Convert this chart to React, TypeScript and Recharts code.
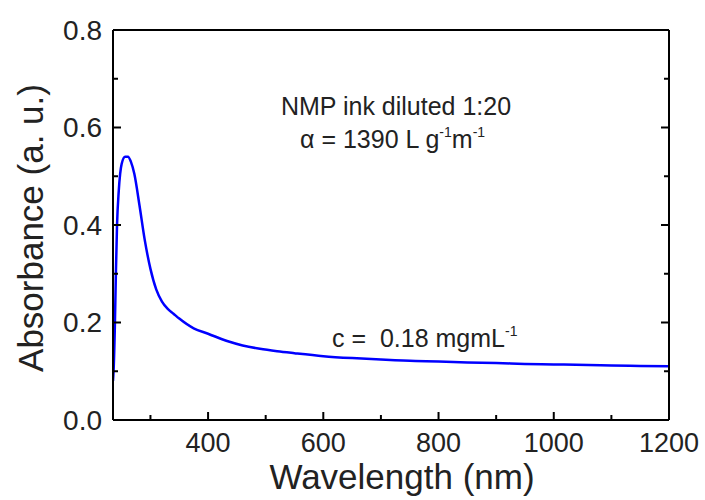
import { LineChart, Line, XAxis, YAxis } from 'recharts'

// UV-vis spectrum, NMP ink diluted 1:20
const wavelength = [
  235, 236, 238, 240, 242, 245, 250, 256, 261, 266, 272, 281, 290, 300, 310, 320, 330, 340, 350,
  375, 400, 433, 460, 490, 520, 550, 600, 650, 700, 760, 800, 850, 900, 950, 1000, 1060, 1100,
  1150, 1200,
]
const absorbance = [
  0.08, 0.1, 0.18, 0.3, 0.4, 0.47, 0.525, 0.54, 0.54, 0.53, 0.505, 0.44, 0.37, 0.31, 0.268,
  0.243, 0.228, 0.218, 0.208, 0.188, 0.177, 0.162, 0.153, 0.146, 0.141, 0.137, 0.131, 0.127,
  0.124, 0.121, 0.12, 0.118, 0.117, 0.115, 0.114, 0.113, 0.112, 0.111, 0.11,
]

const xTicks = [300, 400, 500, 600, 700, 800, 900, 1000, 1100, 1200]
const xLabelTicks = [400, 600, 800, 1000, 1200]
const yTicks = [0, 0.1, 0.2, 0.3, 0.4, 0.5, 0.6, 0.7, 0.8]
const yLabelTicks = [0, 0.2, 0.4, 0.6, 0.8]

const data = wavelength.map((w, i) => ({ w, a: absorbance[i] }))

const FONT = '"Liberation Sans", Arial, sans-serif'
const INK = '#222'
const MAJOR = 8
const MINOR = 5

function BottomTick({ x, y, payload }: any) {
  const major = xLabelTicks.includes(payload.value)
  return (
    <g>
      <line x1={x} x2={x} y1={y} y2={y - (major ? MAJOR : MINOR)} stroke="#000" strokeWidth={2} />
      {major && (
        <text x={x} y={y + 31.5} textAnchor="middle" fontSize={27} fontFamily={FONT} fill={INK}>
          {payload.value}
        </text>
      )}
    </g>
  )
}

function TopTick({ x, y, payload }: any) {
  const major = xLabelTicks.includes(payload.value)
  return <line x1={x} x2={x} y1={y} y2={y + (major ? MAJOR : MINOR)} stroke="#000" strokeWidth={2} />
}

function LeftTick({ x, y, payload }: any) {
  const major = yLabelTicks.includes(payload.value)
  return (
    <g>
      <line x1={x} x2={x + (major ? MAJOR : MINOR)} y1={y} y2={y} stroke="#000" strokeWidth={2} />
      {major && (
        <text x={x - 11} y={y} dy="0.35em" textAnchor="end" fontSize={28} fontFamily={FONT} fill={INK}>
          {payload.value.toFixed(1)}
        </text>
      )}
    </g>
  )
}

function RightTick({ x, y, payload }: any) {
  const major = yLabelTicks.includes(payload.value)
  return <line x1={x} x2={x - (major ? MAJOR : MINOR)} y1={y} y2={y} stroke="#000" strokeWidth={2} />
}

const axisLine = { stroke: '#000', strokeWidth: 2 }

export default function App() {
  return (
    <div style={{ position: 'absolute', left: 0, top: 0, width: 705, height: 500, background: '#fff' }}>
      <LineChart width={705} height={500} data={data} margin={{ top: 29, right: 35, bottom: 79, left: 112 }}>
        <XAxis
          dataKey="w"
          type="number"
          domain={[235, 1200]}
          allowDataOverflow
          ticks={xTicks}
          interval={0}
          height={1}
          tickSize={0}
          tickMargin={0}
          tickLine={false}
          axisLine={axisLine}
          tick={<BottomTick />}
        />
        <XAxis
          xAxisId="top"
          orientation="top"
          type="number"
          domain={[235, 1200]}
          allowDataOverflow
          ticks={xTicks}
          interval={0}
          height={1}
          tickSize={0}
          tickMargin={0}
          tickLine={false}
          axisLine={axisLine}
          tick={<TopTick />}
        />
        <YAxis
          type="number"
          domain={[0, 0.8]}
          allowDataOverflow
          ticks={yTicks}
          interval={0}
          width={1}
          tickSize={0}
          tickMargin={0}
          tickLine={false}
          axisLine={axisLine}
          tick={<LeftTick />}
        />
        <YAxis
          yAxisId="right"
          orientation="right"
          type="number"
          domain={[0, 0.8]}
          allowDataOverflow
          ticks={yTicks}
          interval={0}
          width={1}
          tickSize={0}
          tickMargin={0}
          tickLine={false}
          axisLine={axisLine}
          tick={<RightTick />}
        />
        <Line
          dataKey="a"
          type="monotone"
          stroke="#0000ff"
          strokeWidth={2.5}
          dot={false}
          isAnimationActive={false}
        />
      </LineChart>

      <svg
        width={705}
        height={500}
        style={{ position: 'absolute', left: 0, top: 0, pointerEvents: 'none' }}
        fontFamily={FONT}
        fill={INK}
      >
        <text x={396} y={115} textAnchor="middle" fontSize={25}>
          NMP ink diluted 1:20
        </text>
        <text x={300} y={148} fontSize={25}>
          α = 1390 L g
          <tspan dy={-11} fontSize={14}>-1</tspan>
          <tspan dy={11}>m</tspan>
          <tspan dy={-11} fontSize={14}>-1</tspan>
        </text>
        <text x={332} y={347} fontSize={25} style={{ whiteSpace: 'pre' }}>
          {'c =  0.18 mgmL'}
          <tspan dy={-11} fontSize={14}>-1</tspan>
        </text>
        <text x={402} y={489} textAnchor="middle" fontSize={35}>
          Wavelength (nm)
        </text>
        <text x={43} y={228} textAnchor="middle" fontSize={35} transform="rotate(-90, 43, 228)">
          Absorbance (a. u.)
        </text>
      </svg>
    </div>
  )
}
